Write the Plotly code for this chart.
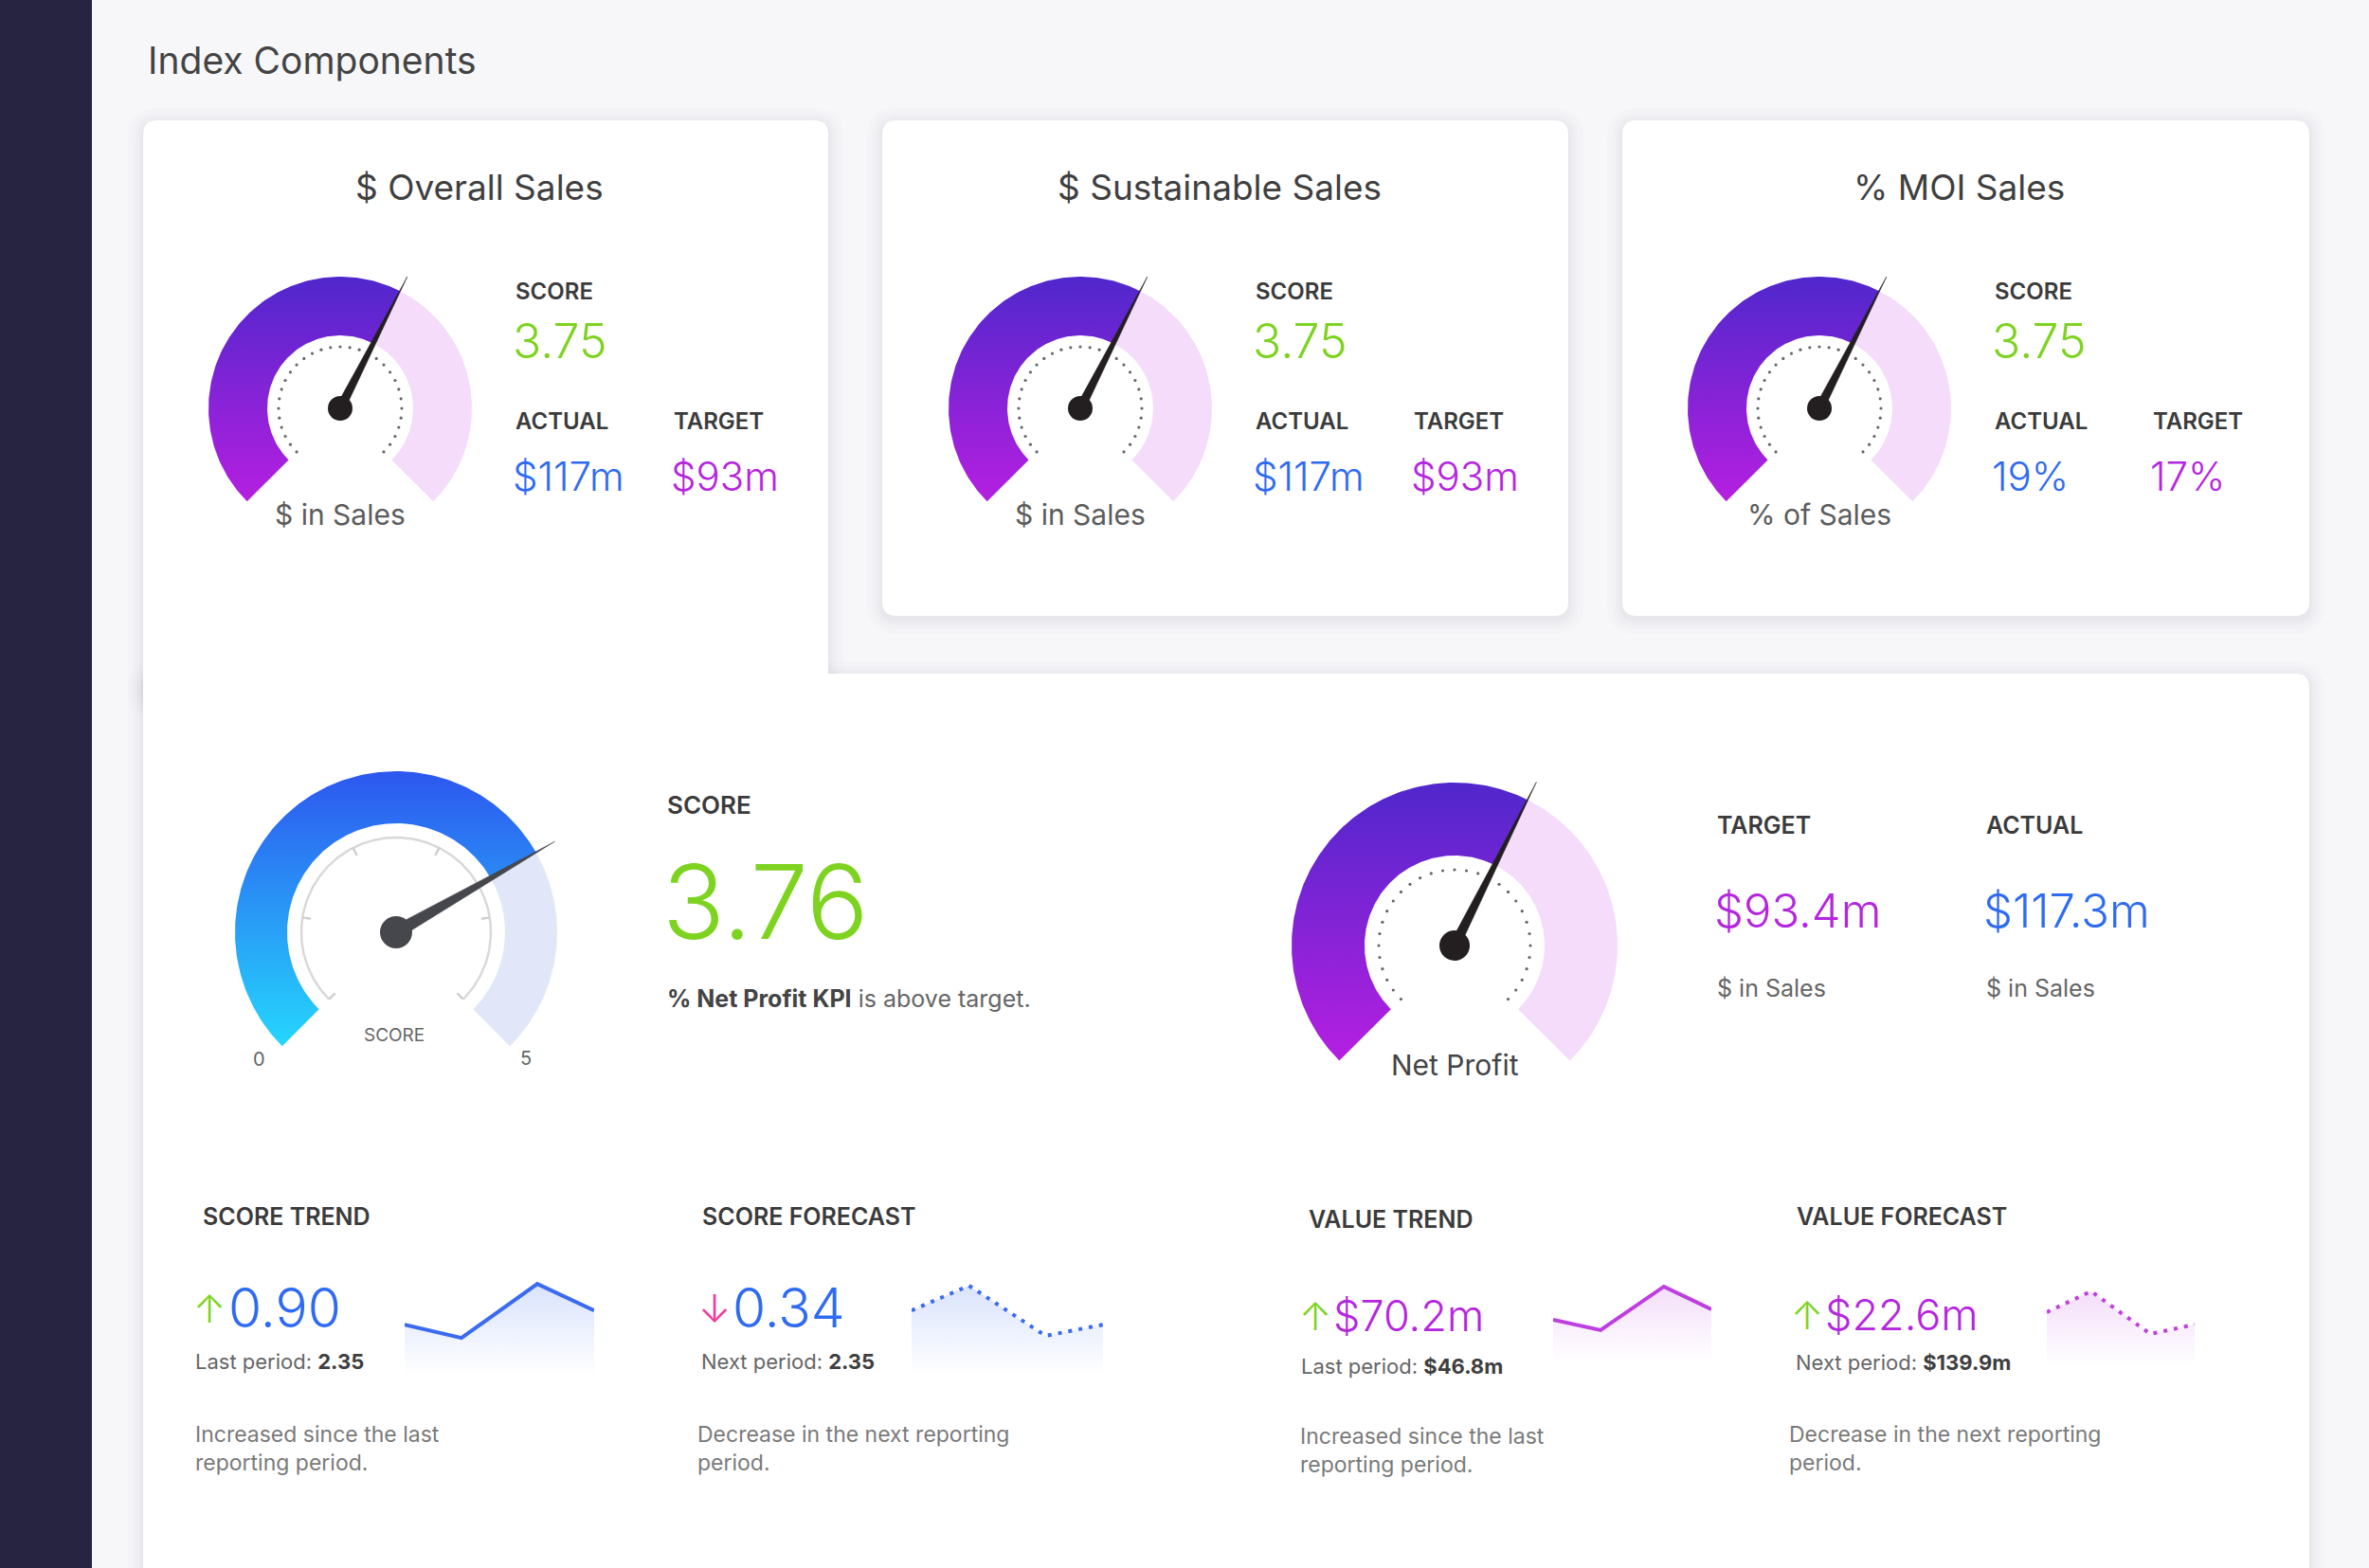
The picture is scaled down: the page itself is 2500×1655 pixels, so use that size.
import numpy as np
import plotly.graph_objects as go

W, H = 2500, 1655
FONT = "Inter, Roboto, 'Noto Sans', sans-serif"

# ---------------- data ----------------
PAGE_TITLE = "Index Components"
CARD_TITLES = ["$ Overall Sales", "$ Sustainable Sales", "% MOI Sales"]
CARD_GAUGE_LABELS = ["$ in Sales", "$ in Sales", "% of Sales"]
CARD_SCORES = [3.75, 3.75, 3.75]
CARD_ACTUALS = ["$117m", "$117m", "19%"]
CARD_TARGETS = ["$93m", "$93m", "17%"]
CARD_GAUGE_MAX = 6.25

MAIN_SCORE = 3.76
MAIN_GAUGE_MAX = 5.2
MAIN_GAUGE_END_LABELS = ["0", "5"]
MAIN_NOTE = "<b>% Net Profit KPI</b> is above target."

NP_LABEL = "Net Profit"
NP_GAUGE_VALUE = 117.3
NP_GAUGE_MAX = 196.0
NP_TARGET = "$93.4m"
NP_ACTUAL = "$117.3m"

SPARK_X = [0, 3, 7, 10]
SCORE_TREND = [1.69, 1.25, 3.04, 2.16]
SCORE_FORECAST = [2.16, 2.98, 1.32, 1.69]
VALUE_TREND = [47.8, 35.9, 85.9, 59.8]
VALUE_FORECAST = [62.0, 85.9, 37.0, 47.8]

KPI_HEADINGS = ["SCORE TREND", "SCORE FORECAST", "VALUE TREND", "VALUE FORECAST"]
KPI_VALUES = ["0.90", "0.34", "$70.2m", "$22.6m"]
KPI_ARROWS = ["↑", "↓", "↑", "↑"]
KPI_PERIOD_LABELS = ["Last period:", "Next period:", "Last period:", "Next period:"]
KPI_PERIOD_VALUES = ["2.35", "2.35", "$46.8m", "$139.9m"]
KPI_NOTES = ["Increased since the last<br>reporting period.",
             "Decrease in the next reporting<br>period.",
             "Increased since the last<br>reporting period.",
             "Decrease in the next reporting<br>period."]

# ---------------- colours ----------------
GREEN = "#7ed321"
BLUE = "#2f6bf2"
PURPLE = "#b526df"
PINK = "#f2369b"
DARK = "#3b3b3b"
GREY = "#5c5c5c"
LIGHTGREY = "#7a7a7a"

fig = go.Figure()
shapes, annotations, axes = [], [], {}
count = [0]


def new_axes(x0, y0, x1, y1, xr, yr):
    count[0] += 1
    n = count[0]
    s = "" if n == 1 else str(n)
    axes["xaxis" + s] = dict(domain=[x0 / W, x1 / W], range=xr, visible=False,
                             fixedrange=True, anchor="y" + s)
    axes["yaxis" + s] = dict(domain=[1 - y1 / H, 1 - y0 / H], range=yr, visible=False,
                             fixedrange=True, anchor="x" + s)
    return "x" + s, "y" + s


def P(x, y):
    return f"{x / W:.6f},{1 - y / H:.6f}"


def rrect(x0, y0, x1, y1, r):
    return (f"M {P(x0 + r, y0)} L {P(x1 - r, y0)} Q {P(x1, y0)} {P(x1, y0 + r)} "
            f"L {P(x1, y1 - r)} Q {P(x1, y1)} {P(x1 - r, y1)} L {P(x0 + r, y1)} "
            f"Q {P(x0, y1)} {P(x0, y1 - r)} L {P(x0, y0 + r)} Q {P(x0, y0)} {P(x0 + r, y0)} Z")


def txt(x, y, text, size, color, weight=400, xanchor="left", yanchor="middle"):
    annotations.append(dict(x=x / W, y=1 - y / H, xref="paper", yref="paper", text=text,
                            showarrow=False, xanchor=xanchor, yanchor=yanchor, borderpad=0,
                            align=xanchor if xanchor != "center" else "center",
                            font=dict(size=size, color=color, family=FONT, weight=weight)))


# ---------------- background: sidebar + cards ----------------
shapes.append(dict(type="rect", xref="paper", yref="paper", x0=0, x1=97 / W, y0=0, y1=1,
                   fillcolor="#262441", line_width=0, layer="below"))
cards = [(151, 127, 874, 740), (931, 127, 1655, 650), (1712, 127, 2437, 650),
         (151, 711, 2437, 1720)]
for grow, alpha in [(16, 0.010), (11, 0.012), (7, 0.014), (4, 0.016), (2, 0.018)]:
    for (x0, y0, x1, y1) in cards:
        shapes.append(dict(type="path", xref="paper", yref="paper",
                           path=rrect(x0 - grow, y0 - grow + 3, x1 + grow, y1 + grow + 3, 15 + grow),
                           fillcolor=f"rgba(40,40,80,{alpha})", line_width=0, layer="below"))
for (x0, y0, x1, y1) in cards:
    shapes.append(dict(type="path", xref="paper", yref="paper", path=rrect(x0, y0, x1, y1, 15),
                       fillcolor="#ffffff", line_width=0, layer="below"))

txt(155, 64, PAGE_TITLE, 39, "#444444", 400)


# ---------------- gauges ----------------
def arc_poly(r0, r1, a0, a1, n=160):
    t = np.radians(np.linspace(a0, a1, n))
    xo, yo = r1 * np.cos(t), r1 * np.sin(t)
    xi, yi = r0 * np.cos(t[::-1]), r0 * np.sin(t[::-1])
    return np.r_[xo, xi, xo[:1]], np.r_[yo, yi, yo[:1]]


def gauge(cx, cy, half, r_out, r_in, value, vmax, bg, grad, needle_col, tip_r, base_hw,
          pivot_r, dots_r=None, ring_r=None):
    xa, ya = new_axes(cx - half, cy - half, cx + half, cy + half, [-half, half], [-half, half])
    ang = 225 - 270 * min(value / vmax, 1.0)
    # unfilled band
    x, y = arc_poly(r_in, r_out, ang, -45)
    fig.add_trace(go.Scatter(x=x, y=y, xaxis=xa, yaxis=ya, mode="lines", fill="toself",
                             fillcolor=bg, line=dict(width=0, color=bg), hoverinfo="skip"))
    # value band (gradient)
    x, y = arc_poly(r_in, r_out, 225, ang)
    fig.add_trace(go.Scatter(x=x, y=y, xaxis=xa, yaxis=ya, mode="lines", fill="toself",
                             fillgradient=dict(type="vertical",
                                               colorscale=[[0, grad[0]], [1, grad[1]]]),
                             line=dict(width=0, color=grad[1]), hoverinfo="skip"))
    if dots_r is not None:
        t = np.radians(np.linspace(225, -45, 31))
        fig.add_trace(go.Scatter(x=dots_r * np.cos(t), y=dots_r * np.sin(t), xaxis=xa, yaxis=ya,
                                 mode="markers", marker=dict(size=3.2, color="#666666"),
                                 hoverinfo="skip"))
    if ring_r is not None:
        t = np.radians(np.linspace(225, -45, 200))
        fig.add_trace(go.Scatter(x=ring_r * np.cos(t), y=ring_r * np.sin(t), xaxis=xa, yaxis=ya,
                                 mode="lines", line=dict(color="#d9d9d9", width=2.5),
                                 hoverinfo="skip"))
        tx, ty = [], []
        for a in np.radians(np.linspace(225, -45, 6)):
            tx += [ring_r * np.cos(a), (ring_r - 9) * np.cos(a), None]
            ty += [ring_r * np.sin(a), (ring_r - 9) * np.sin(a), None]
        fig.add_trace(go.Scatter(x=tx, y=ty, xaxis=xa, yaxis=ya, mode="lines",
                                 line=dict(color="#d0d0d0", width=2.5), hoverinfo="skip"))
    a = np.radians(ang)
    ux, uy = np.cos(a), np.sin(a)
    px_, py_ = -uy, ux
    nx = [tip_r * ux, base_hw * px_ - 4 * ux, -base_hw * px_ - 4 * ux, tip_r * ux]
    ny = [tip_r * uy, base_hw * py_ - 4 * uy, -base_hw * py_ - 4 * uy, tip_r * uy]
    fig.add_trace(go.Scatter(x=nx, y=ny, xaxis=xa, yaxis=ya, mode="lines", fill="toself",
                             fillcolor=needle_col, line=dict(width=0.5, color=needle_col),
                             hoverinfo="skip"))
    fig.add_trace(go.Scatter(x=[0], y=[0], xaxis=xa, yaxis=ya, mode="markers",
                             marker=dict(size=2 * pivot_r, color=needle_col), hoverinfo="skip"))


PURPLE_GRAD = ["#b51fe0", "#5027cc"]
BLUE_GRAD = ["#25d6fd", "#2d57ef"]

for i in range(3):
    dx = [0, 781, 1561][i]
    gauge(359 + dx, 431, 165, 139, 77, CARD_SCORES[i], CARD_GAUGE_MAX, "#f4dcfa", PURPLE_GRAD,
          "#231f20", 156, 5, 13, dots_r=65)
    txt(506 + dx, 198, CARD_TITLES[i], 37, "#3f3f3f", 400, xanchor="center")
    txt(359 + dx, 543, CARD_GAUGE_LABELS[i], 30, GREY, 400, xanchor="center")
    txt(543 + dx, 308, "SCORE", 24, DARK, 600)
    txt(540 + dx, 360, f"{CARD_SCORES[i]:.2f}", 50, GREEN, 300)
    txt(543 + dx, 445, "ACTUAL", 24, DARK, 600)
    txt(710 + dx, 445, "TARGET", 24, DARK, 600)
    txt(540 + dx, 502, CARD_ACTUALS[i], 42, BLUE, 300)
    txt(707 + dx, 502, CARD_TARGETS[i], 42, PURPLE, 300)

# main score gauge
gauge(418, 984, 205, 170, 115, MAIN_SCORE, MAIN_GAUGE_MAX, "#e1e7f8", BLUE_GRAD, "#45474d",
      193, 7, 17, ring_r=100)
txt(416, 1092, "SCORE", 19, "#666666", 400, xanchor="center")
txt(273, 1118, MAIN_GAUGE_END_LABELS[0], 20, "#666666", 400, xanchor="center")
txt(555, 1117, MAIN_GAUGE_END_LABELS[1], 20, "#666666", 400, xanchor="center")
txt(703, 849, "SCORE", 26, DARK, 600)
txt(698, 951, f"{MAIN_SCORE:.2f}", 109, GREEN, 300)
txt(703, 1054, MAIN_NOTE.replace("<b>", "<b style='color:#444'>"), 25, "#666666", 400)

# net profit gauge
gauge(1535, 998, 205, 172, 95, NP_GAUGE_VALUE, NP_GAUGE_MAX, "#f4dcfa", PURPLE_GRAD,
      "#231f20", 193, 5.5, 16, dots_r=80)
txt(1535, 1124, NP_LABEL, 30, "#444444", 400, xanchor="center")
txt(1811, 871, "TARGET", 25, DARK, 600)
txt(2095, 871, "ACTUAL", 25, DARK, 600)
txt(1808, 961, NP_TARGET, 49, PURPLE, 300)
txt(2092, 961, NP_ACTUAL, 49, BLUE, 300)
txt(1811, 1043, "$ in Sales", 25, "#666666", 400)
txt(2095, 1043, "$ in Sales", 25, "#666666", 400)


# ---------------- sparklines ----------------
def spark(box, ys, ymax, color, rgb, dotted):
    x0, y0, x1, y1 = box
    xa, ya = new_axes(x0, y0, x1, y1, [SPARK_X[0], SPARK_X[-1]], [0, ymax])
    fig.add_trace(go.Scatter(
        x=SPARK_X, y=ys, xaxis=xa, yaxis=ya, mode="lines", fill="tozeroy",
        fillgradient=dict(type="vertical", start=0, stop=ymax,
                          colorscale=[[0, f"rgba({rgb},0)"], [1, f"rgba({rgb},0.2)"]]),
        line=dict(color=color, width=4, dash="4px,7px" if dotted else "solid"),
        hoverinfo="skip"))


spark((427, 1350, 627, 1452), SCORE_TREND, 3.2, "#3a6bf0", "58,107,240", False)
spark((962, 1350, 1164, 1452), SCORE_FORECAST, 3.2, "#3a6bf0", "58,107,240", True)
spark((1639, 1345, 1806, 1437), VALUE_TREND, 100, "#bf3ee0", "191,62,224", False)
spark((2160, 1350, 2316, 1442), VALUE_FORECAST, 100, "#bf3ee0", "191,62,224", True)

KPI_LAYOUT = [  # heading(x,y), arrow x, value x, value y, period(x,y), note(x,y), value size
    ((213, 1284), 203, 240, 1380, (205, 1437), (205, 1529), 57, BLUE),
    ((740, 1284), 736, 772, 1380, (739, 1437), (735, 1529), 57, BLUE),
    ((1380, 1287), 1370, 1406, 1388, (1372, 1442), (1371, 1531), 45, PURPLE),
    ((1895, 1284), 1889, 1925, 1387, (1894, 1438), (1887, 1529), 45, PURPLE),
]
for i, (hd, ax, vx, vy, pr, nt, vs, vc) in enumerate(KPI_LAYOUT):
    txt(hd[0], hd[1], KPI_HEADINGS[i], 25, DARK, 600)
    txt(ax, vy + 1, KPI_ARROWS[i], 41, GREEN if KPI_ARROWS[i] == "↑" else PINK, 300)
    txt(vx, vy, KPI_VALUES[i], vs, vc, 300)
    txt(pr[0], pr[1], f"{KPI_PERIOD_LABELS[i]} <b style='color:#3f3f3f'>{KPI_PERIOD_VALUES[i]}</b>",
        22, "#666666", 400)
    txt(nt[0], nt[1], KPI_NOTES[i], 23, LIGHTGREY, 400)

fig.update_layout(width=W, height=H, margin=dict(l=0, r=0, t=0, b=0),
                  paper_bgcolor="#f7f7f9", plot_bgcolor="rgba(0,0,0,0)",
                  showlegend=False, shapes=shapes, annotations=annotations, **axes)
fig.write_html("out.html", config={"displayModeBar": False},
               post_script="document.body.style.margin='0';document.body.style.padding='0';"
                           "document.body.style.overflow='hidden';")
